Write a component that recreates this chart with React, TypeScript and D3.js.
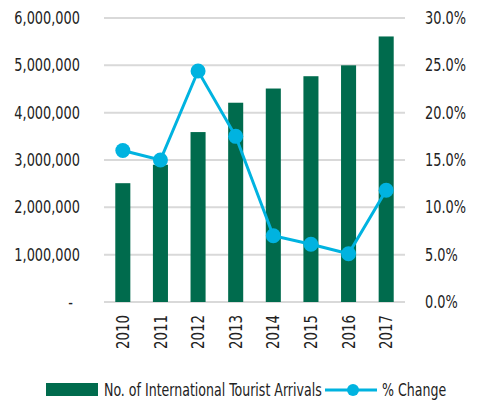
import React from "react";
import * as d3 from "d3";

const years = ["2010", "2011", "2012", "2013", "2014", "2015", "2016", "2017"];
const arrivals = [2510000, 2900000, 3590000, 4210000, 4510000, 4770000, 5000000, 5610000];
const pctChange = [16.0, 15.0, 24.4, 17.5, 7.0, 6.1, 5.1, 11.8];
const leftTicks = [0, 1000000, 2000000, 3000000, 4000000, 5000000, 6000000];
const rightTicks = [0, 5, 10, 15, 20, 25, 30];
const barLabel = "No. of International Tourist Arrivals";
const lineLabel = "% Change";

const W = 480, H = 402;
const m = { left: 104, right: 405, top: 18, bottom: 302 };
const FONT = "'DejaVu Sans Condensed', 'DejaVu Sans', sans-serif";
const GREEN = "#006b4d";
const BLUE = "#00b3e0";
const TEXT = "#222";

function T({ x, y, sx, anchor = "start", rotate = 0, children }: any) {
  return (
    <text
      transform={`translate(${x},${y}) rotate(${rotate}) scale(${sx},1)`}
      dy="0.35em"
      textAnchor={anchor}
      fontFamily={FONT}
      fontSize={17.5}
      fill={TEXT}
    >
      {children}
    </text>
  );
}

export default function App() {
  const x = d3.scaleBand<string>().domain(years).range([m.left, m.right]).paddingInner(0.6).paddingOuter(0.3);
  const yL = d3.scaleLinear().domain([0, 6000000]).range([m.bottom, m.top]);
  const yR = d3.scaleLinear().domain([0, 30]).range([m.bottom, m.top]);
  const cx = (y: string) => (x(y) as number) + x.bandwidth() / 2;
  const line = d3.line<number>().x((_, i) => cx(years[i])).y((d) => yR(d));
  const fmtL = (v: number) => (v === 0 ? "-" : d3.format(",")(v));
  return (
    <svg width={W} height={H} style={{ position: "absolute", left: 0, top: 0, background: "#fff" }}>
      {leftTicks.map((t) => (
        <line key={"g" + t} x1={m.left} x2={m.right} y1={yL(t)} y2={yL(t)} stroke="#d9d9d9" strokeWidth={2} />
      ))}
      {leftTicks.map((t) => (
        <T key={"l" + t} x={t === 0 ? 73 : 80} y={yL(t)} sx={0.82} anchor="end">
          {fmtL(t)}
        </T>
      ))}
      {rightTicks.map((t) => (
        <T key={"r" + t} x={425} y={yR(t)} sx={0.82}>
          {t.toFixed(1) + "%"}
        </T>
      ))}
      {years.map((yv, i) => (
        <rect key={"b" + yv} x={x(yv)} width={x.bandwidth()} y={yL(arrivals[i])} height={yL(0) - yL(arrivals[i])} fill={GREEN} />
      ))}
      <path d={line(pctChange) || ""} fill="none" stroke={BLUE} strokeWidth={3} />
      {pctChange.map((p, i) => (
        <circle key={"c" + i} cx={cx(years[i])} cy={yR(p)} r={7.5} fill={BLUE} />
      ))}
      {years.map((yv) => (
        <T key={"x" + yv} x={cx(yv)} y={315} rotate={-90} sx={0.85} anchor="end">
          {yv}
        </T>
      ))}
      <rect x={46} y={383} width={52} height={13} fill={GREEN} />
      <T x={104} y={390} sx={0.8}>{barLabel}</T>
      <line x1={325} x2={377} y1={390} y2={390} stroke={BLUE} strokeWidth={3} />
      <circle cx={353} cy={390} r={6} fill={BLUE} />
      <T x={382} y={390} sx={0.8}>{lineLabel}</T>
    </svg>
  );
}
